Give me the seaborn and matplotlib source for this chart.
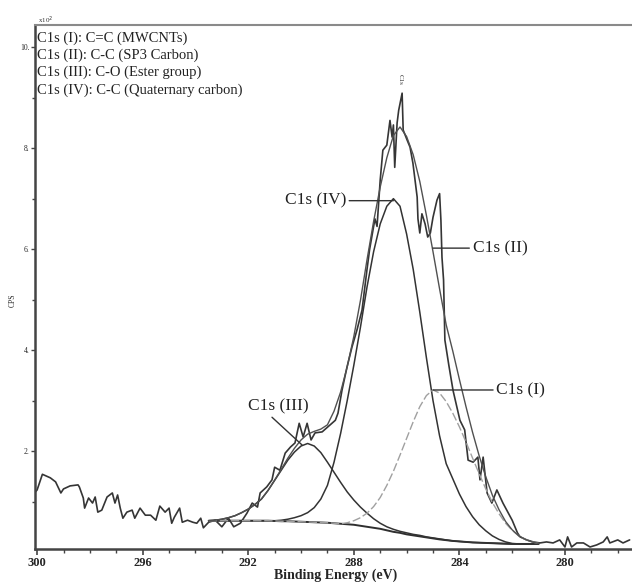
import numpy as np
import pandas as pd
import matplotlib
matplotlib.use("Agg")
import matplotlib.pyplot as plt
from matplotlib.ticker import MultipleLocator
import seaborn as sns

# ---------------- data ----------------
raw_be = [300.1, 300.0, 299.8, 299.5, 299.3, 299.1, 299.0, 298.75, 298.45, 298.4,
          298.25, 298.2, 298.05, 297.9, 297.8, 297.7, 297.55, 297.35, 297.15, 297.05,
          296.95, 296.85, 296.75, 296.6, 296.4, 296.3, 296.1, 295.9, 295.7, 295.5,
          295.35, 295.15, 295.0, 294.9, 294.8, 294.6, 294.5, 294.3, 294.1, 293.95,
          293.8, 293.7, 293.5, 293.25, 293.0, 292.75, 292.55, 292.3, 292.05, 291.85,
          291.65, 291.55, 291.3, 291.1, 291.0, 290.8, 290.6, 290.4, 290.23, 290.07,
          289.92, 289.77, 289.62, 289.47, 289.2, 288.98, 288.7, 288.6, 288.45, 288.26,
          288.07, 287.88, 287.69, 287.5, 287.4, 287.2, 287.12, 287.0, 286.9, 286.75,
          286.63, 286.55, 286.5, 286.45, 286.36, 286.3, 286.17, 286.13, 285.98, 285.87,
          285.76, 285.6, 285.57, 285.5, 285.42, 285.3, 285.2, 285.1, 285.0, 284.85,
          284.75, 284.7, 284.66, 284.6, 284.55, 284.4, 284.24, 283.98, 283.8, 283.67,
          283.48, 283.3, 283.22, 283.1, 282.95, 282.77, 282.58, 282.35, 282.0, 281.8,
          281.7, 281.45, 281.2, 280.95, 280.7, 280.45, 280.2, 280.0, 279.9, 279.75,
          279.55, 279.3, 279.05, 278.8, 278.55, 278.4, 278.3, 278.0, 277.8, 277.55]
raw_cps = [1.17, 1.23, 1.54, 1.47, 1.39, 1.17, 1.25, 1.31, 1.33, 1.29,
           1.07, 0.87, 1.07, 0.97, 1.09, 0.79, 0.83, 1.09, 1.17, 0.97,
           1.13, 0.87, 0.67, 0.79, 0.83, 0.67, 0.87, 0.73, 0.73, 0.63,
           0.91, 0.79, 0.87, 0.57, 0.69, 0.87, 0.59, 0.63, 0.59, 0.57,
           0.67, 0.48, 0.59, 0.63, 0.50, 0.67, 0.50, 0.57, 0.77, 0.97,
           0.89, 1.17, 1.29, 1.43, 1.68, 1.62, 1.96, 2.08, 2.16, 2.55,
           2.28, 2.55, 2.22, 2.36, 2.38, 2.48, 2.61, 2.75, 3.20, 3.66,
           4.06, 4.40, 4.79, 5.60, 6.00, 6.60, 6.45, 7.37, 7.96, 8.06,
           8.55, 8.22, 8.46, 7.62, 8.50, 8.75, 9.09, 8.36, 8.16, 8.02,
           7.70, 7.03, 6.60, 6.32, 6.70, 6.50, 6.24, 6.32, 6.63, 6.97,
           7.10, 6.57, 5.84, 5.39, 4.20, 3.70, 3.20, 2.61, 2.42, 1.82,
           1.78, 1.88, 1.43, 1.88, 1.17, 0.97, 1.23, 0.97, 0.63, 0.38,
           0.30, 0.24, 0.20, 0.18, 0.20, 0.18, 0.24, 0.10, 0.30, 0.10,
           0.18, 0.18, 0.10, 0.14, 0.20, 0.30, 0.18, 0.24, 0.18, 0.24]

fit_be = [293.5, 293.25, 293.0, 292.75, 292.5, 292.25, 292.0, 291.75, 291.5, 291.25,
          291.0, 290.75, 290.5, 290.25, 290.0, 289.75, 289.5, 289.25, 289.0, 288.75,
          288.5, 288.25, 288.0, 287.75, 287.5, 287.25, 287.0, 286.75, 286.5, 286.25,
          286.0, 285.75, 285.5, 285.25, 285.0, 284.75, 284.5, 284.25, 284.0, 283.75,
          283.5, 283.25, 283.0, 282.75, 282.5, 282.25, 282.0, 281.75, 281.5, 281.25, 281.0]
background = [0.62, 0.62, 0.62, 0.62, 0.62, 0.62, 0.62, 0.62, 0.62, 0.62,
              0.615, 0.61, 0.61, 0.605, 0.60, 0.595, 0.59, 0.585, 0.58, 0.57,
              0.56, 0.55, 0.54, 0.52, 0.50, 0.48, 0.46, 0.43, 0.40, 0.38,
              0.35, 0.33, 0.31, 0.29, 0.27, 0.25, 0.235, 0.22, 0.21, 0.20,
              0.19, 0.185, 0.18, 0.175, 0.17, 0.165, 0.16, 0.16, 0.16, 0.16, 0.16]
peak_I = [0.62, 0.62, 0.62, 0.62, 0.62, 0.62, 0.62, 0.62, 0.62, 0.62,
          0.615, 0.61, 0.61, 0.605, 0.60, 0.595, 0.59, 0.585, 0.58, 0.57,
          0.56, 0.58, 0.62, 0.68, 0.77, 0.90, 1.08, 1.32, 1.60, 1.92,
          2.25, 2.58, 2.88, 3.10, 3.21, 3.15, 2.98, 2.75, 2.48, 2.18,
          1.86, 1.55, 1.25, 0.98, 0.76, 0.57, 0.43, 0.32, 0.25, 0.20, 0.17]
peak_III = [0.62, 0.63, 0.65, 0.68, 0.72, 0.78, 0.85, 0.94, 1.05, 1.22,
            1.42, 1.62, 1.82, 1.98, 2.10, 2.15, 2.10, 1.97, 1.78, 1.58,
            1.38, 1.19, 1.03, 0.89, 0.77, 0.66, 0.57, 0.50, 0.45, 0.41,
            0.38, 0.35, 0.33, 0.30, 0.28, 0.26, 0.24, 0.22, 0.21, 0.20,
            0.19, 0.185, 0.18, 0.175, 0.17, 0.165, 0.16, 0.16, 0.16, 0.16, 0.16]
peak_IV = [0.62, 0.62, 0.62, 0.62, 0.62, 0.62, 0.62, 0.62, 0.62, 0.62,
           0.62, 0.63, 0.65, 0.68, 0.72, 0.78, 0.88, 1.05, 1.32, 1.78,
           2.35, 3.00, 3.70, 4.45, 5.25, 5.95, 6.50, 6.85, 7.00, 6.85,
           6.30, 5.60, 4.75, 3.85, 3.00, 2.30, 1.75, 1.45, 1.15, 0.90,
           0.70, 0.54, 0.42, 0.32, 0.25, 0.20, 0.17, 0.16, 0.16, 0.16, 0.16]

legend_lines = ["C1s (I): C=C (MWCNTs)",
                "C1s (II): C-C (SP3 Carbon)",
                "C1s (III): C-O (Ester group)",
                "C1s (IV): C-C (Quaternary carbon)"]
x_ticks = [300, 296, 292, 288, 284, 280]
y_ticks = [2, 4, 6, 8, 10]

# ---------------- frames ----------------
raw = pd.DataFrame({"BE": raw_be, "CPS": raw_cps})
bg = np.array(background)
fit = pd.DataFrame({"BE": fit_be, "bg": bg, "I": peak_I, "III": peak_III, "IV": peak_IV})
fit["env"] = bg + (fit["I"] - bg) + (fit["III"] - bg) + (fit["IV"] - bg)

sns.set_style("ticks")
plt.rcParams['font.family'] = ['Liberation Serif', 'DejaVu Serif']

W, H = 632, 582
fig = plt.figure(figsize=(W / 100, H / 100), dpi=100)
ax = fig.add_axes([35 / W, 1 - 549 / H, (W - 35) / W, (549 - 25) / H])

dark = "#353535"
sns.lineplot(data=raw, x="BE", y="CPS", ax=ax, color=dark, lw=1.2, sort=False, estimator=None)
sns.lineplot(data=fit, x="BE", y="bg", ax=ax, color="#2f2f2f", lw=1.4, sort=False, estimator=None)
sns.lineplot(data=fit, x="BE", y="III", ax=ax, color="#333333", lw=1.1, sort=False, estimator=None)
sns.lineplot(data=fit, x="BE", y="IV", ax=ax, color="#333333", lw=1.1, sort=False, estimator=None)
sns.lineplot(data=fit, x="BE", y="I", ax=ax, color="#a0a0a0", lw=1.0, sort=False, estimator=None,
             linestyle=(0, (6, 2)))
sns.lineplot(data=fit, x="BE", y="env", ax=ax, color="#505050", lw=1.0, sort=False, estimator=None)

ax.set_xlim(300.08, 277.46)
ax.set_ylim(0.06, 10.44)

ax.set_xticks(x_ticks)
ax.set_xticklabels([str(t) for t in x_ticks], fontsize=9, fontweight="bold")
ax.xaxis.set_minor_locator(MultipleLocator(1))
ax.set_yticks(y_ticks)
ax.set_yticklabels([f"{t}." for t in y_ticks], fontsize=5.5)
ax.yaxis.set_minor_locator(MultipleLocator(1))
ax.tick_params(axis="x", which="major", length=4, width=1.2, color="#444", pad=1.5)
ax.tick_params(axis="x", which="minor", length=3, width=1.0, color="#444")
ax.tick_params(axis="y", which="major", length=3, width=1.0, color="#444", pad=1)
ax.tick_params(axis="y", which="minor", length=2.5, width=1.0, color="#444")

for s in ["left", "bottom"]:
    ax.spines[s].set_linewidth(1.8)
    ax.spines[s].set_color("#444444")
ax.spines["top"].set_linewidth(1.5)
ax.spines["top"].set_color("#8a8a8a")
ax.spines["right"].set_visible(False)

ax.set_xlabel("Binding Energy (eV)", fontsize=10, fontweight="bold")
ax.xaxis.set_label_coords(0.503, -0.037)
ax.set_ylabel("CPS", fontsize=5.5)
ax.yaxis.set_label_coords(-0.030, 0.475)

fig.text(38 / W, 1 - 20 / H, "x10$^2$", fontsize=5, ha="left", va="center", color="#333")

for i, line in enumerate(legend_lines):
    fig.text(37 / W, 1 - (38 + 17.3 * i) / H, line, fontsize=10.5, ha="left", va="center", color="#222")

ax.text(286.25, 9.25, "C1s", fontsize=5, rotation=270, ha="center", va="bottom", color="#333")

lab = dict(fontsize=12.5, color="#222")
line_kw = dict(arrowstyle="-", color="#333", lw=1.0, shrinkA=0, shrinkB=0)
ax.annotate("C1s (IV)", xy=(286.5, 6.96), xytext=(288.3, 6.96), ha="right", va="center",
            arrowprops=line_kw, **lab)
ax.annotate("C1s (II)", xy=(285.0, 6.02), xytext=(283.5, 6.02), ha="left", va="center",
            arrowprops=line_kw, **lab)
ax.annotate("C1s (I)", xy=(285.0, 3.21), xytext=(282.6, 3.21), ha="left", va="center",
            arrowprops=line_kw, **lab)
ax.annotate("", xy=(289.96, 2.12), xytext=(291.1, 2.67), arrowprops=line_kw)
ax.text(290.85, 2.89, "C1s (III)", ha="center", va="center", **lab)

fig.savefig("out.png", dpi=100, facecolor="white")
